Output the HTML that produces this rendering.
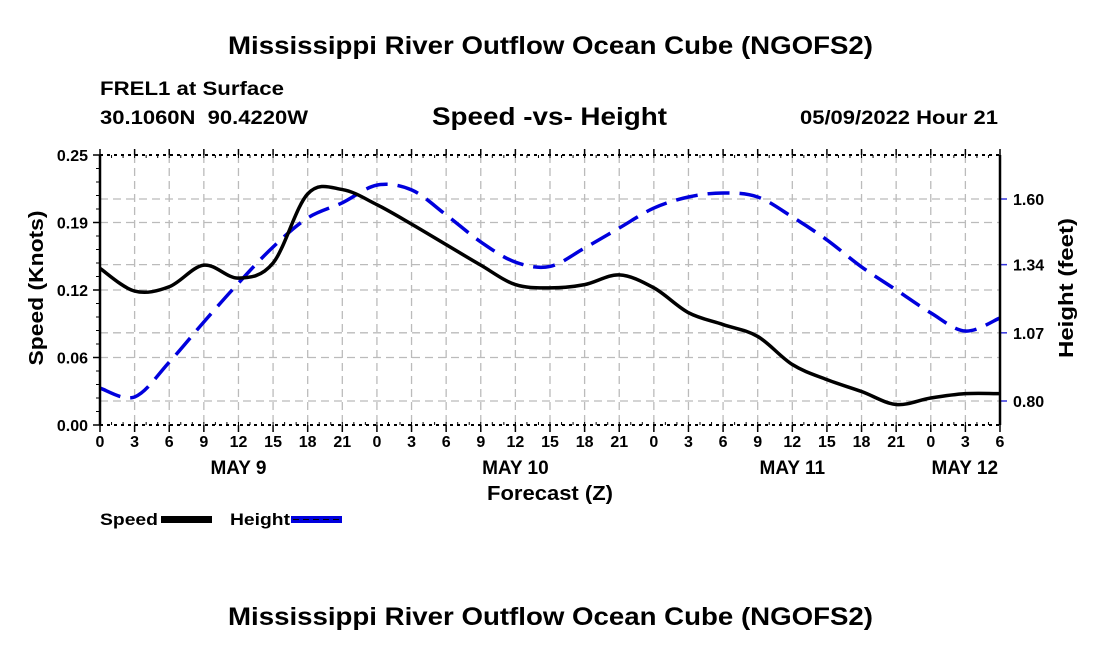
<!DOCTYPE html>
<html><head><meta charset="utf-8"><style>
body{margin:0;background:#fff;}
svg{display:block;font-family:"Liberation Sans",Arial,sans-serif;font-weight:bold;}
</style></head><body>
<svg id="chart" width="1100" height="650" viewBox="0 0 1100 650" xmlns="http://www.w3.org/2000/svg">
<text x="228" y="54" font-size="25" textLength="645" lengthAdjust="spacingAndGlyphs">Mississippi River Outflow Ocean Cube (NGOFS2)</text>
<text x="100" y="95" font-size="19" textLength="184" lengthAdjust="spacingAndGlyphs">FREL1 at Surface</text>
<text x="100" y="124" font-size="19" textLength="208" lengthAdjust="spacingAndGlyphs" xml:space="preserve">30.1060N  90.4220W</text>
<text x="432" y="125" font-size="25" textLength="235" lengthAdjust="spacingAndGlyphs">Speed -vs- Height</text>
<text x="800" y="124" font-size="19" textLength="198" lengthAdjust="spacingAndGlyphs">05/09/2022 Hour 21</text>
<g id="grid"></g>
<g id="series"></g>
<g id="axes"></g>
<text transform="translate(43,288) rotate(-90)" font-size="20" text-anchor="middle" textLength="155" lengthAdjust="spacingAndGlyphs">Speed (Knots)</text>
<text transform="translate(1073,288) rotate(-90)" font-size="20" text-anchor="middle" textLength="140" lengthAdjust="spacingAndGlyphs">Height (feet)</text>
<text x="487" y="500" font-size="20" textLength="126" lengthAdjust="spacingAndGlyphs">Forecast (Z)</text>
<g>
<text x="100" y="525" font-size="17" textLength="58" lengthAdjust="spacingAndGlyphs">Speed</text>
<rect x="161" y="516" width="51" height="7" fill="#000"/>
<text x="230" y="525" font-size="17" textLength="60" lengthAdjust="spacingAndGlyphs">Height</text>
<rect x="291" y="516" width="51" height="7" fill="#0000dd"/>
<line x1="293" y1="519.5" x2="340" y2="519.5" stroke="#000" stroke-width="1" stroke-dasharray="6,4"/>
</g>
<text x="228" y="625" font-size="25" textLength="645" lengthAdjust="spacingAndGlyphs">Mississippi River Outflow Ocean Cube (NGOFS2)</text>
</svg>
<script>
const hours = [0,3,6,9,12,15,18,21,24,27,30,33,36,39,42,45,48,51,54,57,60,63,66,69,72,75,78];
const speedValues = [0.145,0.124,0.128,0.148,0.136,0.150,0.214,0.218,0.204,0.186,0.167,0.148,0.130,0.127,0.130,0.139,0.127,0.104,0.093,0.082,0.056,0.042,0.031,0.019,0.025,0.029,0.029];
const heightValues = [0.851,0.816,0.954,1.113,1.267,1.41,1.525,1.585,1.655,1.636,1.537,1.43,1.35,1.333,1.406,1.485,1.564,1.608,1.624,1.608,1.529,1.438,1.331,1.24,1.149,1.077,1.129];
const xTickLabels = ["0","3","6","9","12","15","18","21","0","3","6","9","12","15","18","21","0","3","6","9","12","15","18","21","0","3","6"];
const dayLabels = ["MAY 9","MAY 10","MAY 11","MAY 12"];
const dayHours = [12,36,60,72];
const speedTicks = [0,0.0625,0.125,0.1875,0.25];
const speedTickLabels = ["0.00","0.06","0.12","0.19","0.25"];
const heightTicks = [0.80,1.07,1.34,1.60];
const heightTickLabels = ["0.80","1.07","1.34","1.60"];

const L=100,R=1000,T=155,B=425;
const X=h=>L+(h-0)*(R-L)/78;
const YS=v=>B-(v/0.25)*(B-T);
const YH=v=>401-(v-0.80)*252.5;
const NS="http://www.w3.org/2000/svg";
function mk(parent,tag,attrs){const e=document.createElementNS(NS,tag);for(const k in attrs)e.setAttribute(k,attrs[k]);parent.appendChild(e);return e;}
const grid=document.getElementById('grid'),axes=document.getElementById('axes'),series=document.getElementById('series');

hours.forEach((h,i)=>{
  const x=X(h);
  if(i>0&&i<hours.length-1){const g=mk(grid,'line',{x1:x,y1:T,x2:x,y2:B,stroke:'#bbb','stroke-width':1.3,'stroke-dasharray':'8,5'});
  
  }
  const t=mk(axes,'line',{x1:x,y1:B,x2:x,y2:B+7,stroke:'#000','stroke-width':1.5});
  
  
  mk(axes,'line',{x1:x,y1:T,x2:x,y2:T-6,stroke:'#000','stroke-width':1.5});
  const lb=mk(axes,'text',{x:x,y:447,'font-size':16,'text-anchor':'middle'});
  lb.textContent=xTickLabels[i];
  
  
});
dayLabels.forEach((d,i)=>{
  const t=mk(axes,'text',{x:X(dayHours[i])+(i==3?34:0),y:474,'font-size':19,'text-anchor':'middle'});
  t.textContent=d;
  
  
});
speedTicks.forEach((v,i)=>{
  const y=YS(v);
  if(i>0&&i<speedTicks.length-1){const g=mk(grid,'line',{x1:L,y1:y,x2:R,y2:y,stroke:'#bbb','stroke-width':1.3,'stroke-dasharray':'8,5'});
  
  }
  mk(axes,'line',{x1:L-7,y1:y,x2:L,y2:y,stroke:'#000','stroke-width':1.5});
  const t=mk(axes,'text',{x:L-12,y:y+6,'font-size':16,'text-anchor':'end'});
  t.textContent=speedTickLabels[i];
  
  
});
for(let v=0;v<=0.25;v+=0.0125){mk(axes,'line',{x1:L-4,y1:YS(v),x2:L,y2:YS(v),stroke:'#000','stroke-width':1});}
heightTicks.forEach((v,i)=>{
  const y=YH(v);
  const g=mk(grid,'line',{x1:L,y1:y,x2:R,y2:y,stroke:'#bbb','stroke-width':1.3,'stroke-dasharray':'8,5'});
  
  
  mk(axes,'line',{x1:R,y1:y,x2:R+7,y2:y,stroke:'#3333dd','stroke-width':1.5});
  const t=mk(axes,'text',{x:R+13,y:y+6,'font-size':16});
  t.textContent=heightTickLabels[i];
  
  
});
for(let h=0;h<=78;h++){mk(axes,'line',{x1:X(h),y1:B,x2:X(h),y2:B-3,stroke:'#000','stroke-width':1});mk(axes,'line',{x1:X(h),y1:T,x2:X(h),y2:T+3,stroke:'#000','stroke-width':1});}
mk(axes,'line',{x1:L,y1:T,x2:R,y2:T,stroke:'#000','stroke-width':2,'stroke-dasharray':'3,4'});
mk(axes,'line',{x1:L,y1:B,x2:R,y2:B,stroke:'#000','stroke-width':2,'stroke-dasharray':'3,4'});
mk(axes,'line',{x1:L,y1:T,x2:L,y2:B,stroke:'#000','stroke-width':2.5});
mk(axes,'line',{x1:R,y1:T,x2:R,y2:B,stroke:'#000','stroke-width':2.5});

function smooth(pts){
  let d='M'+pts[0][0]+','+pts[0][1];
  for(let i=0;i<pts.length-1;i++){
    const p0=pts[Math.max(0,i-1)],p1=pts[i],p2=pts[i+1],p3=pts[Math.min(pts.length-1,i+2)];
    const c1=[p1[0]+(p2[0]-p0[0])/6,p1[1]+(p2[1]-p0[1])/6];
    const c2=[p2[0]-(p3[0]-p1[0])/6,p2[1]-(p3[1]-p1[1])/6];
    d+=' C'+c1[0]+','+c1[1]+' '+c2[0]+','+c2[1]+' '+p2[0]+','+p2[1];
  }
  return d;
}
const hp=mk(series,'path',{d:smooth(hours.map((h,i)=>[X(h),YH(heightValues[i])])),fill:'none',stroke:'#0000dd','stroke-width':3.5,'stroke-dasharray':'22,10'});


const sp=mk(series,'path',{d:smooth(hours.map((h,i)=>[X(h),YS(speedValues[i])])),fill:'none',stroke:'#000','stroke-width':3.5});


</script>
</body></html>
